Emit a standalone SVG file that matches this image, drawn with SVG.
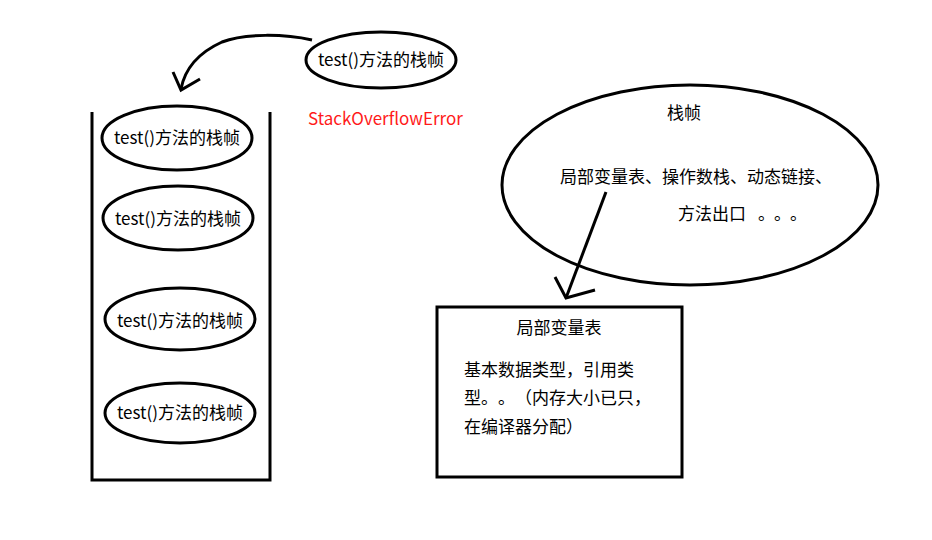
<svg xmlns="http://www.w3.org/2000/svg" width="932" height="540" viewBox="0 0 932 540">
<style>
.sh{fill:none;stroke:#000;stroke-width:3}
.t{font-family:"Noto Sans CJK SC","Microsoft YaHei",sans-serif;font-size:17px;fill:#000;text-spacing-trim:space-all}
.c{text-anchor:middle}
</style>
<rect width="932" height="540" fill="#fff"/>
<g id="stack">
<path class="sh" d="M92,112 V480 H270 V112"/>
</g>
<g id="frame-top">
<ellipse class="sh" cx="381" cy="60" rx="75" ry="28"/>
<text class="t c" x="381" y="66">test()方法的栈帧</text>
</g>
<g id="frame1">
<ellipse class="sh" cx="177" cy="138" rx="75" ry="32"/>
<text class="t c" x="177" y="144">test()方法的栈帧</text>
</g>
<g id="frame2">
<ellipse class="sh" cx="178" cy="218" rx="75" ry="32"/>
<text class="t c" x="178" y="225">test()方法的栈帧</text>
</g>
<g id="frame3">
<ellipse class="sh" cx="180" cy="319" rx="75" ry="31"/>
<text class="t c" x="180" y="327">test()方法的栈帧</text>
</g>
<g id="frame4">
<ellipse class="sh" cx="180" cy="413" rx="75" ry="30"/>
<text class="t c" x="180" y="419">test()方法的栈帧</text>
</g>
<g id="error">
<text class="t" x="308" y="125" style="fill:#ff1a1a">StackOverflowError</text>
</g>
<g id="frame-detail">
<ellipse class="sh" cx="690" cy="185" rx="188" ry="100"/>
<text class="t c" x="684" y="119">栈帧</text>
<text class="t" x="560" y="183">局部变量表、操作数栈、动态链接、</text>
<text class="t" x="678" y="220">方法出口<tspan x="758 774 790">。。。</tspan></text>
</g>
<g id="locals">
<rect class="sh" x="437" y="307" width="245" height="170"/>
<text class="t c" x="559" y="334">局部变量表</text>
<text class="t" x="464" y="376">基本数据类型，引用类</text>
<text class="t" x="464" y="404">型<tspan x="481 498 515 532">。。（内</tspan>存大小已只，</text>
<text class="t" x="464" y="433">在编译器分配）</text>
</g>
<g id="connectors">
<path class="sh" d="M312,40 C285,34 245,33 222,42 C200,52 185,68 181,89"/>
<path class="sh" d="M173,72 L181,90 L200,79"/>
<path class="sh" d="M606,192 L566,298"/>
<path class="sh" d="M555,277 L566,298 L595,290"/>
</g>
</svg>
